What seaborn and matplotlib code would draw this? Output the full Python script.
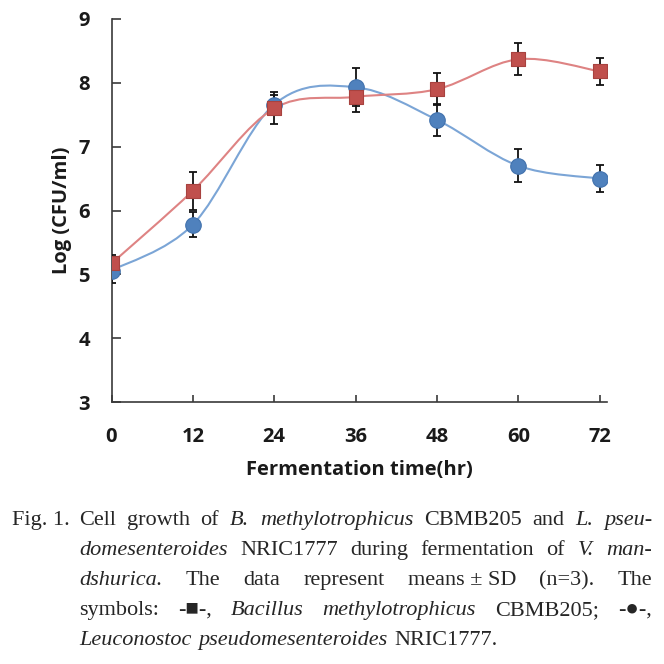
import pandas as pd
import seaborn as sns
import matplotlib.pyplot as plt
from matplotlib.path import Path
from matplotlib.patches import PathPatch

# 발효 시간과 생균수 (log CFU/ml), 평균 ± SD
time_hr = [0, 12, 24, 36, 48, 60, 72]
bacillus_log = [5.17, 6.31, 7.60, 7.78, 7.90, 8.37, 8.18]
bacillus_sd = [0.14, 0.30, 0.25, 0.23, 0.25, 0.25, 0.21]
leuco_log = [5.06, 5.78, 7.66, 7.93, 7.42, 6.70, 6.50]
leuco_sd = [0.20, 0.20, 0.15, 0.30, 0.25, 0.26, 0.21]

x_ticks = [0, 12, 24, 36, 48, 60, 72]
y_ticks = [3, 4, 5, 6, 7, 8, 9]

RED, RED_EDGE, RED_LINE = '#C0504D', '#A8423F', '#DE8383'
BLUE, BLUE_EDGE, BLUE_LINE = '#4F81BD', '#4272AD', '#7BA5D6'

# 캡션 (단어, 이탤릭 여부)
caption_lines = [
    [("Cell", False), ("growth", False), ("of", False), ("B.", True),
     ("methylotrophicus", True), ("CBMB205", False), ("and", False),
     ("L.", True), ("pseu-", True)],
    [("domesenteroides", True), ("NRIC1777", False), ("during", False),
     ("fermentation", False), ("of", False), ("V.", True), ("man-", True)],
    [("dshurica.", True), ("The", False), ("data", False), ("represent", False),
     ("means ± SD", False), ("(n=3).", False), ("The", False)],
    [("symbols:", False), ("-■-,", False), ("Bacillus", True),
     ("methylotrophicus", True), ("CBMB205;", False), ("-●-,", False)],
    [("Leuconostoc", True), ("pseudomesenteroides", True), ("NRIC1777.", False)],
]


def smooth_path(xs, ys):
    """엑셀 스타일 부드러운 곡선 (Catmull-Rom -> Bezier)"""
    pts = list(zip(xs, ys))
    verts = [pts[0]]
    codes = [Path.MOVETO]
    for i in range(len(pts) - 1):
        p0 = pts[i - 1] if i > 0 else pts[i]
        p1, p2 = pts[i], pts[i + 1]
        p3 = pts[i + 2] if i + 2 < len(pts) else pts[i + 1]
        c1 = (p1[0] + (p2[0] - p0[0]) / 6, p1[1] + (p2[1] - p0[1]) / 6)
        c2 = (p2[0] - (p3[0] - p1[0]) / 6, p2[1] - (p3[1] - p1[1]) / 6)
        verts += [c1, c2, p2]
        codes += [Path.CURVE4] * 3
    return Path(verts, codes)


def draw_caption(fig, W, H):
    serif = ['Liberation Serif', 'DejaVu Sans']
    size = 16
    left, indent, right = 12, 79, 652
    baselines = [525, 555, 585, 615, 645]
    renderer = fig.canvas.get_renderer()

    fig.text(left / W, 1 - baselines[0] / H, "Fig. 1.", family=serif,
             fontsize=size, va='baseline', ha='left')

    for li, words in enumerate(caption_lines):
        y = 1 - baselines[li] / H
        texts = [fig.text(0, y, w, family=serif, fontsize=size,
                          style='italic' if it else 'normal',
                          va='baseline', ha='left') for w, it in words]
        widths = [t.get_window_extent(renderer).width for t in texts]
        if li == len(caption_lines) - 1:
            gap = 7
        else:
            gap = (right - indent - sum(widths)) / (len(words) - 1)
        x = indent
        for t, w in zip(texts, widths):
            t.set_x(x / W)
            x += w + gap


def main():
    sns.set_style('white')
    plt.rcParams['font.family'] = ['Open Sans', 'DejaVu Sans']

    W = H = 664
    fig = plt.figure(figsize=(6.64, 6.64), dpi=100)
    ax = fig.add_axes([111.5 / W, 1 - 402 / H, 495 / W, 383 / H])

    # 곡선
    ax.add_patch(PathPatch(smooth_path(time_hr, leuco_log), fill=False,
                           edgecolor=BLUE_LINE, lw=1.5, zorder=2))
    ax.add_patch(PathPatch(smooth_path(time_hr, bacillus_log), fill=False,
                           edgecolor=RED_LINE, lw=1.5, zorder=2))

    # 오차 막대
    for vals, sd in [(leuco_log, leuco_sd), (bacillus_log, bacillus_sd)]:
        ax.errorbar(time_hr, vals, yerr=sd, fmt='none', ecolor='#111111',
                    elinewidth=1.3, capsize=3, capthick=1.3, zorder=3)

    # 마커
    sns.scatterplot(x=time_hr, y=leuco_log, marker='o', s=125, color=BLUE,
                    edgecolor=BLUE_EDGE, linewidth=0.8, zorder=4, ax=ax)
    sns.scatterplot(x=time_hr, y=bacillus_log, marker='s', s=115, color=RED,
                    edgecolor=RED_EDGE, linewidth=0.8, zorder=5, ax=ax)

    ax.set_xlim(0, 73)
    ax.set_ylim(3, 9)
    ax.set_xticks(x_ticks)
    ax.set_yticks(y_ticks)
    ax.set_xticklabels([str(v) for v in x_ticks], fontweight='bold')
    ax.set_yticklabels([str(v) for v in y_ticks], fontweight='bold')

    for side in ['top', 'right']:
        ax.spines[side].set_visible(False)
    for side in ['left', 'bottom']:
        ax.spines[side].set_color('#3a3a3a')
        ax.spines[side].set_linewidth(1.2)

    ax.tick_params(axis='y', direction='in', length=6.5, width=1.2,
                   color='#3a3a3a', pad=15.5, labelsize=14.5,
                   labelcolor='#1a1a1a', left=True)
    ax.tick_params(axis='x', direction='in', length=5, width=1.2,
                   color='#3a3a3a', pad=18, labelsize=14.5,
                   labelcolor='#1a1a1a', bottom=True)

    ax.set_xlabel('Fermentation time(hr)', fontsize=14.5, fontweight='bold',
                  color='#1a1a1a', va='center')
    ax.set_ylabel('Log (CFU/ml)', fontsize=14.5, fontweight='bold',
                  color='#1a1a1a', va='center')
    ax.xaxis.set_label_coords(0.5, -68 / 383)
    ax.yaxis.set_label_coords(-50 / 495, 0.5)

    draw_caption(fig, W, H)

    fig.savefig('out.png', dpi=100, facecolor='white')


if __name__ == "__main__":
    main()
